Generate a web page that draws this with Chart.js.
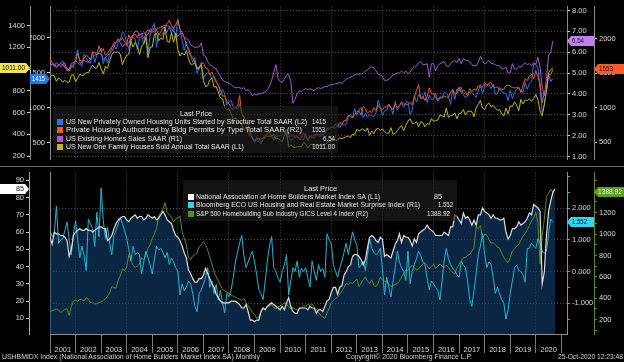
<!DOCTYPE html>
<html>
<head>
<meta charset="utf-8">
<title>US housing</title>
<script src="https://cdn.jsdelivr.net/npm/chart.js@4.4.1/dist/chart.umd.min.js"></script>
<style>
  body { margin: 0; background: #000; }
  #page { position: relative; width: 624px; height: 362px; overflow: hidden; background: #000;
    font-family: 'Liberation Sans', Arial, sans-serif; color: #e4e4e4; }
  canvas { position: absolute; left: 0; }
  #top { top: 0; }
  #bot { top: 166px; }
  .box { position: absolute; background: rgba(30, 30, 30, 0.62); }
  .t { position: absolute; height: 10px; line-height: 10px; font-size: 8px; white-space: nowrap; }
  .t span { display: inline-block; transform-origin: 0 50%; }
  .sq { position: absolute; width: 6px; height: 6px; }
  .tag { position: absolute; height: 10px; }
  .rule { position: absolute; background: #6a6a6a; }
</style>
</head>
<body>
<div id="page">
  <canvas id="top" width="624" height="166"></canvas>
  <canvas id="bot" width="624" height="190"></canvas>
  <div class="rule" style="left:0;top:166px;width:624px;height:1px"></div>
  <div class="box" style="left:53px;top:106px;width:285px;height:47px"></div>
  <div class="box" style="left:183px;top:180px;width:274px;height:41px"></div>
</div>
<script>
// monthly values, Jan 2001 onwards

// US housing starts, thousands SAAR (L2)
const starts = [
  1600, 1625, 1590, 1649, 1605, 1636, 1670, 1567, 1562, 1540, 1602, 1568,
  1698, 1829, 1642, 1592, 1764, 1717, 1655, 1633, 1804, 1648, 1753, 1788,
  1853, 1629, 1726, 1643, 1751, 1867, 1897, 1833, 1939, 1967, 2083, 2057,
  1911, 1846, 1998, 2003, 1981, 1828, 2002, 2024, 1905, 2072, 1782, 2042,
  2144, 2207, 1864, 2061, 2025, 2068, 2054, 2095, 2151, 2065, 2147, 1994,
  2273, 2119, 1969, 1821, 1942, 1802, 1737, 1650, 1720, 1491, 1570, 1649,
  1409, 1480, 1495, 1490, 1415, 1448, 1354, 1330, 1183, 1264, 1197, 1037,
  1084, 1103, 1005, 1013, 973, 1046, 923, 844, 820, 777, 652, 560,
  490, 582, 505, 478, 540, 585, 594, 586, 585, 534, 588, 581,
  614, 604, 636, 687, 583, 536, 546, 599, 594, 543, 545, 539,
  630, 522, 593, 580, 560, 622, 598, 583, 667, 624, 715, 705,
  725, 710, 706, 751, 712, 770, 745, 764, 857, 902, 860, 983,
  888, 962, 1004, 856, 915, 862, 898, 885, 869, 925, 1107, 1012,
  886, 953, 961, 1046, 993, 910, 1091, 963, 1023, 1074, 1003, 1070,
  1091, 901, 964, 1175, 1076, 1193, 1135, 1132, 1225, 1071, 1179, 1114,
  1123, 1206, 1111, 1159, 1142, 1213, 1210, 1161, 1044, 1268, 1118, 1270,
  1237, 1295, 1181, 1144, 1171, 1227, 1207, 1185, 1146, 1236, 1331, 1195,
  1316, 1311, 1333, 1270, 1339, 1192, 1194, 1290, 1229, 1210, 1202, 1097,
  1252, 1129, 1214, 1268, 1281, 1237, 1212, 1360, 1262, 1340, 1370, 1624,
  1617, 1567, 1269, 934, 1038, 1265, 1487, 1373, 1415
]

// building permits, thousands SAAR (R2)
const permits = [
  1699, 1656, 1623, 1597, 1615, 1600, 1611, 1591, 1570, 1526, 1595, 1628,
  1665, 1787, 1691, 1669, 1716, 1758, 1738, 1695, 1803, 1799, 1771, 1896,
  1808, 1854, 1757, 1788, 1838, 1873, 1939, 1940, 1998, 1972, 2015, 1949,
  1920, 2057, 1970, 2048, 2063, 2012, 2070, 2061, 2003, 2050, 2056, 2139,
  2115, 2159, 2125, 2056, 2092, 2164, 2155, 2219, 2263, 2190, 2144, 2201,
  2265, 2135, 2091, 2016, 1905, 1867, 1763, 1723, 1655, 1587, 1559, 1631,
  1649, 1575, 1564, 1475, 1515, 1439, 1384, 1322, 1261, 1168, 1169, 1083,
  1063, 992, 969, 1004, 1007, 1175, 923, 868, 804, 747, 616, 558,
  527, 566, 555, 500, 537, 572, 589, 577, 586, 554, 602, 630,
  677, 636, 671, 598, 583, 592, 600, 572, 582, 555, 567, 636,
  564, 539, 591, 563, 608, 629, 600, 623, 602, 640, 697, 684,
  718, 714, 765, 729, 788, 760, 813, 812, 890, 875, 850, 903,
  943, 954, 890, 1017, 984, 918, 954, 926, 1000, 957, 1036, 991,
  967, 1011, 1009, 1051, 1000, 975, 1053, 1000, 1031, 1081, 1052, 1052,
  1043, 1078, 1040, 1150, 1250, 1337, 1130, 1161, 1105, 1164, 1289, 1204,
  1202, 1146, 1094, 1139, 1142, 1166, 1154, 1152, 1225, 1260, 1201, 1210,
  1300, 1219, 1260, 1228, 1168, 1275, 1230, 1272, 1250, 1316, 1299, 1300,
  1366, 1323, 1354, 1364, 1301, 1292, 1303, 1249, 1270, 1265, 1322, 1326,
  1317, 1291, 1288, 1290, 1294, 1220, 1322, 1419, 1391, 1461, 1482, 1420,
  1536, 1452, 1356, 1066, 1220, 1258, 1483, 1476, 1553
]

// existing home sales, millions SAAR (R1)
const existing = [
  5.30, 5.45, 5.35, 5.25, 5.40, 5.45, 5.40, 5.50, 5.10, 5.20, 5.45, 5.50,
  5.60, 5.50, 5.40, 5.55, 5.60, 5.55, 5.50, 5.70, 5.75, 5.85, 5.90, 5.95,
  5.90, 5.65, 5.75, 5.85, 5.95, 6.05, 6.25, 6.50, 6.60, 6.45, 6.25, 6.40,
  6.35, 6.45, 6.70, 6.85, 7.00, 7.00, 6.80, 6.90, 6.90, 6.95, 7.05, 7.00,
  6.95, 7.00, 7.10, 7.15, 7.20, 7.25, 7.30, 7.25, 7.25, 7.10, 7.00, 6.90,
  6.75, 6.90, 6.90, 6.70, 6.65, 6.60, 6.35, 6.30, 6.20, 6.25, 6.25, 6.45,
  5.85, 5.80, 5.55, 5.40, 5.35, 5.25, 5.20, 5.00, 4.85, 4.65, 4.60, 4.55,
  4.50, 4.45, 4.35, 4.30, 4.30, 4.30, 4.25, 4.30, 4.15, 4.20, 4.10, 3.90,
  4.00, 3.95, 4.00, 4.00, 4.05, 4.10, 4.20, 4.35, 4.65, 5.00, 5.40, 4.75,
  4.60, 4.55, 4.70, 4.90, 4.95, 4.60, 3.55, 3.75, 4.00, 4.15, 4.10, 4.20,
  4.25, 4.20, 4.25, 4.20, 4.15, 4.25, 4.30, 4.25, 4.30, 4.35, 4.35, 4.40,
  4.45, 4.45, 4.50, 4.50, 4.55, 4.50, 4.60, 4.70, 4.75, 4.80, 4.85, 4.90,
  4.95, 4.95, 4.95, 5.00, 5.10, 5.15, 5.25, 5.30, 5.25, 5.10, 4.95, 4.90,
  4.85, 4.65, 4.65, 4.70, 4.80, 4.90, 4.95, 5.00, 5.00, 5.10, 5.00, 5.10,
  4.95, 5.05, 5.20, 5.30, 5.35, 5.50, 5.55, 5.40, 5.40, 5.45, 4.80, 5.45,
  5.45, 5.10, 5.35, 5.45, 5.50, 5.55, 5.35, 5.30, 5.45, 5.55, 5.60, 5.50,
  5.70, 5.45, 5.70, 5.60, 5.60, 5.55, 5.40, 5.35, 5.35, 5.50, 5.80, 5.60,
  5.45, 5.50, 5.60, 5.45, 5.45, 5.40, 5.35, 5.35, 5.20, 5.20, 5.30, 5.00,
  5.00, 5.45, 5.20, 5.20, 5.30, 5.30, 5.40, 5.50, 5.40, 5.45, 5.35, 5.50,
  5.42, 5.76, 5.27, 4.33, 3.91, 4.72, 5.86, 6.00, 6.54
]

// new one family houses sold, thousands SAAR (L1)
const newSales = [
  925, 944, 940, 887, 919, 903, 880, 898, 877, 881, 941, 949,
  881, 920, 955, 940, 947, 970, 966, 1004, 1037, 1010, 1010, 1060,
  1000, 955, 1026, 1006, 1077, 1131, 1157, 1154, 1160, 1134, 1040, 1091,
  1127, 1135, 1261, 1204, 1245, 1210, 1134, 1211, 1233, 1292, 1105, 1204,
  1203, 1319, 1328, 1260, 1286, 1274, 1389, 1255, 1244, 1336, 1246, 1330,
  1180, 1120, 1150, 1129, 1170, 1095, 1045, 1045, 1057, 1004, 1014, 1038,
  894, 839, 845, 899, 915, 836, 839, 789, 735, 727, 647, 625,
  636, 592, 536, 549, 532, 512, 496, 442, 462, 404, 398, 371,
  338, 356, 361, 355, 367, 389, 404, 420, 384, 398, 355, 362,
  347, 331, 389, 422, 282, 305, 283, 275, 288, 288, 286, 325,
  311, 275, 300, 309, 307, 300, 294, 295, 303, 307, 318, 339,
  336, 353, 345, 349, 367, 362, 367, 377, 383, 370, 401, 394,
  448, 428, 444, 450, 425, 459, 390, 430, 405, 446, 454, 436,
  450, 422, 410, 409, 461, 401, 407, 433, 459, 482, 433, 481,
  521, 543, 500, 500, 517, 469, 517, 506, 469, 500, 490, 545,
  519, 527, 530, 577, 570, 558, 642, 555, 570, 573, 597, 543,
  592, 595, 628, 578, 612, 613, 608, 561, 642, 676, 711, 641,
  626, 672, 687, 653, 665, 642, 620, 627, 589, 567, 640, 589,
  662, 655, 698, 668, 615, 721, 678, 716, 711, 729, 703, 730,
  767, 718, 615, 570, 676, 795, 967, 994, 1011
]

// NAHB market index (L1, lower panel), runs to Oct 2020
const nahb = [
  57, 53, 60, 59, 59, 58, 58, 57, 55, 46, 50, 58,
  60, 61, 62, 61, 61, 62, 61, 61, 60, 61, 62, 63,
  63, 62, 62, 55, 56, 58, 62, 65, 67, 68, 69, 69,
  67, 66, 68, 69, 70, 68, 69, 69, 67, 68, 70, 69,
  68, 69, 67, 68, 70, 72, 70, 67, 66, 65, 61, 58,
  57, 55, 52, 48, 45, 38, 36, 33, 31, 31, 33, 33,
  35, 39, 36, 33, 30, 28, 24, 22, 20, 19, 19, 19,
  19, 20, 20, 20, 19, 18, 16, 16, 18, 14, 9, 9,
  8, 9, 9, 14, 16, 15, 17, 18, 19, 18, 17, 16,
  15, 17, 15, 19, 22, 17, 14, 13, 13, 16, 16, 16,
  16, 15, 17, 16, 16, 13, 15, 15, 14, 17, 20, 21,
  25, 28, 28, 24, 28, 29, 35, 37, 40, 41, 46, 47,
  47, 46, 44, 41, 44, 51, 57, 58, 57, 55, 54, 57,
  56, 46, 47, 46, 45, 49, 53, 55, 59, 54, 58, 57,
  57, 55, 52, 56, 54, 59, 60, 61, 62, 64, 62, 61,
  60, 58, 58, 58, 58, 60, 59, 58, 63, 63, 70, 69,
  67, 65, 71, 68, 69, 67, 64, 67, 64, 70, 70, 74,
  72, 71, 70, 68, 70, 68, 68, 67, 67, 68, 60, 56,
  58, 62, 62, 63, 66, 64, 65, 66, 68, 71, 70, 76,
  75, 74, 72, 30, 37, 58, 72, 78, 83, 85
]

// Bloomberg ECO housing surprise index (R1, lower panel)
const eco = [
  1.29, 1.10, 1.19, 2.06, 0.89, 1.00, 1.04, 1.30, 1.56, 1.00, 0.53, 1.20,
  1.60, 1.00, 0.43, 0.80, 0.50, 0.03, 1.65, 1.50, 1.35, 0.79, 1.87, 1.10,
  2.63, 1.60, 1.04, 1.40, 0.90, 0.53, 1.14, 1.30, 1.50, 1.70, 1.50, 1.29,
  1.04, 0.70, 0.33, 0.80, 0.53, 0.60, 0.53, -0.08, 0.30, 0.64, 0.43, 0.20,
  -0.08, 0.40, 0.80, 0.68, 0.73, 0.60, 0.43, 0.60, 0.22, 0.43, 0.30, 0.12,
  0.00, -0.74, -0.39, -0.60, -0.49, -0.30, -0.39, -0.70, -1.10, -1.27, -0.69, -0.58,
  -0.40, -0.18, 0.12, -0.50, -0.30, -0.70, -0.40, -0.90, -0.60, -1.00, -1.30, -0.69,
  -0.80, -0.58, -0.20, 0.30, 0.60, 0.90, 1.14, 0.50, 0.12, 0.30, 0.50, 0.64,
  0.30, -0.10, -0.58, -0.70, -0.89, -0.30, 0.33, 0.80, 1.10, 0.12, 0.00, -0.20,
  -0.34, 0.00, 0.20, 0.53, -0.74, -0.30, 0.12, 0.00, 0.33, -0.18, 0.10, 0.00,
  0.12, -0.20, -0.49, 0.33, 0.00, -0.28, 0.22, 0.00, 0.10, -0.18, 1.19, 1.00,
  0.89, 0.22, 0.00, -0.18, 0.10, 0.33, 0.60, 0.89, 0.53, 0.90, 1.25, 1.00,
  0.83, 0.12, 0.20, 0.33, 0.03, 0.50, 1.04, 0.73, 0.60, 0.53, 0.60, 0.73,
  0.10, -0.74, -0.18, -0.50, -0.80, -0.30, 0.12, 0.64, 0.30, 0.12, 0.00, -0.28,
  0.64, -0.39, 0.00, 0.22, 0.40, 0.64, 0.50, 0.30, 0.22, -0.20, -0.58, -0.30,
  -0.39, -0.50, -0.60, -0.89, -0.30, 0.33, 0.73, 0.40, 0.22, 0.10, 0.03, -0.10,
  -0.18, 0.33, 0.20, 0.12, -0.30, -0.89, -1.10, -0.60, -0.08, 0.53, 0.80, 1.19,
  0.53, 0.12, 0.30, 0.22, -0.18, -0.69, -0.50, -0.70, -0.89, -1.00, -1.50, -1.20,
  -0.69, -0.30, 0.12, 0.20, 0.03, 0.00, -0.10, -0.34, 0.73, 0.73, 0.89, 0.80,
  0.73, 1.04, 0.90, 0.64, 0.58, 0.64, 1.20, 1.65, 1.552
]

// S&P 500 homebuilding sub industry index (R2, lower panel)
const homebuild = [
  268, 285, 290, 302, 290, 268, 282, 295, 302, 239, 320, 374,
  380, 370, 392, 385, 374, 404, 390, 360, 365, 347, 350, 359,
  365, 380, 392, 420, 449, 509, 500, 494, 572, 610, 674, 660,
  689, 809, 752, 707, 690, 700, 719, 779, 760, 797, 869, 900,
  959, 1000, 1050, 1169, 1200, 1230, 1293, 1202, 1180, 1158, 1112, 1140,
  1150, 1169, 1023, 960, 899, 779, 760, 797, 810, 824, 880, 899,
  930, 900, 850, 780, 720, 650, 599, 560, 520, 482, 470, 455,
  449, 430, 419, 410, 400, 392, 380, 400, 360, 329, 300, 268,
  250, 212, 224, 270, 302, 300, 320, 329, 340, 314, 300, 320,
  329, 340, 360, 347, 320, 300, 314, 300, 290, 302, 310, 329,
  329, 340, 335, 347, 320, 300, 268, 240, 225, 212, 260, 302,
  359, 380, 400, 410, 437, 470, 500, 539, 530, 545, 539, 560,
  580, 509, 540, 572, 600, 560, 539, 572, 520, 509, 540, 599,
  570, 560, 554, 530, 509, 520, 530, 539, 560, 599, 630, 662,
  660, 689, 707, 690, 662, 674, 700, 720, 734, 700, 674, 700,
  719, 680, 700, 719, 700, 689, 710, 689, 660, 640, 629, 680,
  719, 750, 779, 780, 800, 809, 840, 869, 1067, 1050, 1079, 959,
  1000, 989, 950, 914, 920, 899, 880, 869, 820, 779, 750, 734,
  780, 842, 860, 887, 900, 944, 980, 1005, 1040, 1079, 1120, 1150,
  1203, 1100, 719, 989, 1140, 1350, 1380, 1420, 1388.92
]

const yearTicks = [2001, 2002, 2003, 2004, 2005, 2006, 2007, 2008, 2009, 2010, 2011,
  2012, 2013, 2014, 2015, 2016, 2017, 2018, 2019, 2020, 2021]
const gridYears = [2002, 2004, 2006, 2008, 2010, 2012, 2014, 2016, 2018, 2020]

const newSalesTicks = [200, 400, 600, 800, 1000, 1200, 1400]
const startsTicks = [500, 1000, 1500, 2000]
const existingTicks = [1, 2, 3, 4, 5, 6, 7, 8]
const permitsTicks = [500, 1000, 1500, 2000]
const nahbTicks = [10, 20, 30, 40, 50, 60, 70, 80, 90]
const ecoTicks = [-1.5, -1, -0.5, 0, 0.5, 1, 1.5, 2, 2.5, 3]
const ecoLabels = [-1, 0, 1, 2]
const homebuildTicks = [100, 200, 300, 400, 500, 600, 700, 800, 900, 1000, 1100, 1200, 1300, 1400, 1500]
const homebuildLabels = [200, 400, 600, 800, 1000, 1200, 1400]

const blue = '#2378e6'
const orange = '#ee5a28'
const purple = '#a35bd1'
const yellow = '#c6b51b'
const white = '#dedede'
const cyan = '#27b5d5'
const green = '#5b8b1f'

const font = { family: "'Liberation Sans', Arial, sans-serif", size: 7.5 }
const tickCol = '#d8d8d8'
const dotCol = '#4f4f4f'
const axisCol = '#8c8c8c'
const xMin = 2001
const xMax = 2021.22

const pts = arr => arr.map((v, i) => ({ x: 2001 + i / 12, y: v }))

function yAxis(o) {
  const labels = o.labels || o.ticks
  return {
    type: 'linear', position: o.pos, weight: o.weight, min: o.min, max: o.max,
    afterFit: s => { s.width = o.w },
    afterBuildTicks: s => { s.ticks = o.ticks.map(v => ({ value: v })) },
    ticks: {
      display: o.ticks.length > 0, color: tickCol, font: font, padding: 2, autoSkip: false,
      callback: v => labels.includes(v) ? o.fmt(v) : ''
    },
    grid: {
      drawOnChartArea: !!o.grid,
      color: c => (o.grid && c.tick && labels.includes(c.tick.value)) ? o.grid : 'rgba(0,0,0,0)',
      tickLength: 3, tickColor: o.tickColor || '#cfcfcf', tickWidth: 1
    },
    border: { color: o.border || axisCol, dash: [1, 2] }
  }
}

const lineDs = (data, axis, color, w) => ({
  data: pts(data), yAxisID: axis, borderColor: color, borderWidth: w || 1,
  pointRadius: 0, tension: 0, fill: false
})

const topChart = new Chart(document.getElementById('top'), {
  type: 'line',
  data: {
    datasets: [
      lineDs(newSales, 'yL1', yellow),
      lineDs(existing, 'yR1', purple),
      lineDs(permits, 'yR2', orange),
      lineDs(starts, 'yL2', blue)
    ]
  },
  options: {
    responsive: false, animation: false, events: [],
    layout: { padding: 0 },
    plugins: { legend: { display: false }, tooltip: { enabled: false } },
    scales: {
      x: {
        type: 'linear', min: xMin, max: xMax,
        afterFit: s => { s.height = 1 },
        afterBuildTicks: s => { s.ticks = gridYears.map(v => ({ value: v })) },
        ticks: { display: false },
        grid: { color: dotCol, drawTicks: false },
        border: { display: false, dash: [1, 2] }
      },
      yL1: yAxis({ pos: 'left', weight: 2, w: 30, min: 168, max: 1576, ticks: newSalesTicks, fmt: v => String(v) }),
      yL2: yAxis({ pos: 'left', weight: 1, w: 20, min: 257, max: 2448, ticks: startsTicks, fmt: v => String(v) }),
      yR1: yAxis({ pos: 'right', weight: 1, w: 27, min: 0.854, max: 8.19, ticks: existingTicks, fmt: v => v.toFixed(2), grid: dotCol }),
      yR2: yAxis({ pos: 'right', weight: 2, w: 30, min: 250, max: 2465, ticks: permitsTicks, fmt: v => String(v) })
    }
  }
})

const botChart = new Chart(document.getElementById('bot'), {
  type: 'line',
  data: {
    datasets: [
      Object.assign(lineDs(nahb, 'yL', white, 1.2), { fill: 'start', backgroundColor: 'rgba(16, 62, 108, 0.62)' }),
      lineDs(eco, 'yR1', cyan),
      lineDs(homebuild, 'yR2', green)
    ]
  },
  options: {
    responsive: false, animation: false, events: [],
    layout: { padding: 0 },
    plugins: { legend: { display: false }, tooltip: { enabled: false }, filler: { drawTime: 'beforeDatasetsDraw' } },
    scales: {
      x: {
        type: 'linear', min: xMin, max: xMax,
        afterFit: s => { s.height = 22 },
        afterBuildTicks: s => { s.ticks = yearTicks.map(v => ({ value: v })) },
        ticks: {
          color: tickCol, font: font, padding: -8, labelOffset: 12.8, autoSkip: false,
          maxRotation: 0, minRotation: 0, callback: v => v <= 2020 ? String(v) : ''
        },
        grid: {
          color: c => (c.tick && gridYears.includes(c.tick.value)) ? dotCol : 'rgba(0,0,0,0)',
          tickLength: 19, tickColor: '#7a7a7a'
        },
        border: { color: axisCol, dash: [1, 2] }
      },
      yL: yAxis({ pos: 'left', weight: 2, w: 29, min: 0.95, max: 94.5, ticks: nahbTicks, fmt: v => String(v), border: '#aaaaaa' }),
      yPad: yAxis({ pos: 'left', weight: 1, w: 21, min: 0, max: 1, ticks: [], fmt: v => '' }),
      yR1: yAxis({ pos: 'right', weight: 1, w: 27, min: -1.97, max: 3.12, ticks: ecoTicks, labels: ecoLabels,
        fmt: v => v.toFixed(3), grid: dotCol, border: cyan, tickColor: cyan }),
      yR2: yAxis({ pos: 'right', weight: 2, w: 30, min: 66, max: 1575, ticks: homebuildTicks, labels: homebuildLabels,
        fmt: v => String(v), border: green, tickColor: green })
    }
  }
})

// html text: legends, badges, footer
const page = document.getElementById('page')

function put(str, left, cy, width, color, size) {
  const d = document.createElement('div')
  d.className = 't'
  d.style.left = left + 'px'
  d.style.top = (cy - 5) + 'px'
  d.style.color = color || '#e4e4e4'
  if (size) d.style.fontSize = size + 'px'
  const s = document.createElement('span')
  s.textContent = str
  d.appendChild(s)
  page.appendChild(d)
  const w = s.getBoundingClientRect().width
  if (w > 0) s.style.transform = 'scaleX(' + (width / w).toFixed(3) + ')'
}

function square(left, cy, color) {
  const d = document.createElement('div')
  d.className = 'sq'
  d.style.left = left + 'px'
  d.style.top = (cy - 3) + 'px'
  d.style.background = color
  page.appendChild(d)
}

function tag(str, left, width, cy, bg, fg, pointRight, textLeft, textW) {
  const d = document.createElement('div')
  d.className = 'tag'
  d.style.left = left + 'px'
  d.style.top = Math.round(cy - 5) + 'px'
  d.style.width = width + 'px'
  d.style.background = bg
  d.style.clipPath = pointRight
    ? 'polygon(0 0, calc(100% - 4px) 0, 100% 50%, calc(100% - 4px) 100%, 0 100%)'
    : 'polygon(4px 0, 100% 0, 100% 100%, 4px 100%, 0 50%)'
  page.appendChild(d)
  put(str, textLeft, Math.round(cy), textW, fg, 7.5)
}

const last = a => a[a.length - 1]

// top legend
put('Last Price', 180, 114, 32)
square(57, 121.5, blue)
put('US New Privately Owned Housing Units Started by Structure Total SAAR  (L2)', 66, 121.5, 241)
put(String(last(starts)), 312, 121.5, 14)
square(57, 130, orange)
put('Private Housing Authorized by Bldg Permits by Type Total SAAR  (R2)', 66, 130, 236)
put(String(last(permits)), 312, 130, 13)
square(57, 138.5, purple)
put('US Existing Homes Sales SAAR  (R1)', 66, 138.5, 116)
put(last(existing).toFixed(2), 323, 138.5, 12)
square(57, 147, yellow)
put('US New One Family Houses Sold Annual Total SAAR  (L1)', 66, 147, 178)
put(last(newSales).toFixed(2), 312, 147, 23)

// bottom legend
put('Last Price', 304, 188.5, 33)
square(188, 197, '#ffffff')
put('National Association of Home Builders Market Index SA  (L1)', 196, 197, 184)
put(String(last(nahb)), 434, 197, 8)
square(188, 205, '#2fd0f0')
put('Bloomberg ECO US Housing and Real Estate Market Surprise Index  (R1)', 196, 205, 224)
put(last(eco).toFixed(3), 438, 205, 15)
square(188, 213.5, green)
put('S&P 500 Homebuilding Sub Industry GICS Level 4 Index  (R2)', 196, 213.5, 172)
put(last(homebuild).toFixed(2), 427, 213.5, 23)

// value badges on the axes
const ts = topChart.scales
const bs = botChart.scales
tag(last(newSales).toFixed(2), 0, 30, ts.yL1.getPixelForValue(last(newSales)), '#f4e455', '#111', true, 2, 23)
tag(String(last(starts)), 30, 20, ts.yL2.getPixelForValue(last(starts)), '#1f7be8', '#fff', true, 32, 13)
tag(last(existing).toFixed(2), 567, 27, ts.yR1.getPixelForValue(last(existing)), '#c47ef0', '#1a1a1a', false, 572, 12)
tag(String(last(permits)), 594, 30, ts.yR2.getPixelForValue(last(permits)), '#ff5a22', '#1a1a1a', false, 599, 14)
tag(String(last(nahb)), 0, 29, 166 + bs.yL.getPixelForValue(last(nahb)), '#ffffff', '#111', true, 16, 8)
tag(last(eco).toFixed(3), 567, 27, 166 + bs.yR1.getPixelForValue(last(eco)), '#2fd3f3', '#111', false, 572, 15)
tag(last(homebuild).toFixed(2), 594, 30, 166 + bs.yR2.getPixelForValue(last(homebuild)), '#5f9e18', '#f2f2f2', false, 598, 24)

// footer
put('USHBMIDX Index (National Association of Home Builders Market Index SA)  Monthly', 2, 357, 258, '#d0d0d0')
put('Copyright\u00a9 2020 Bloomberg Finance L.P.', 346, 357, 126, '#d0d0d0')
put('25-Oct-2020 12:23:48', 558, 357, 65, '#d0d0d0')
</script>
</body>
</html>
